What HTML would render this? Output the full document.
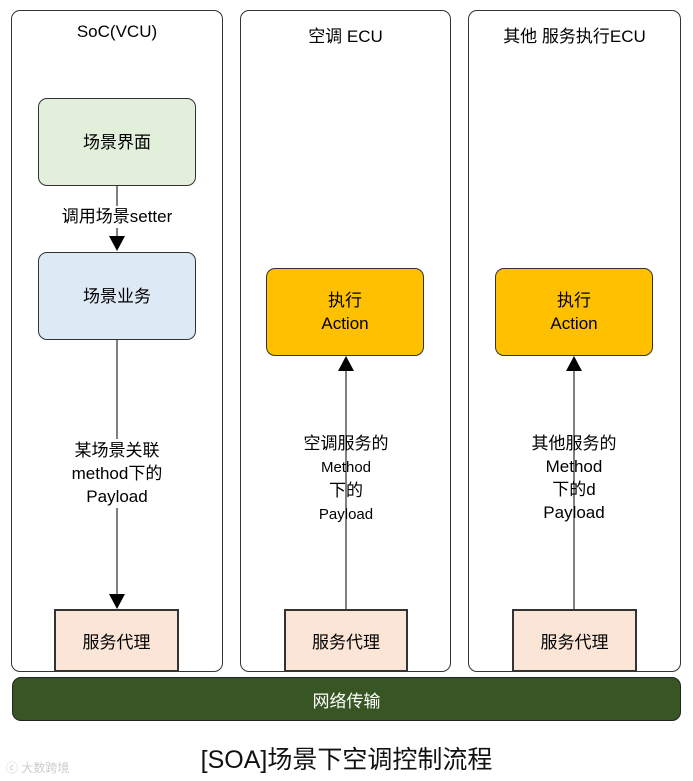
<!DOCTYPE html>
<html><head><meta charset="utf-8"><style>
body{margin:0;width:693px;height:781px;background:#fff;position:relative;overflow:hidden;font-family:"Liberation Sans","Noto Sans CJK SC",sans-serif;color:#000}
.a{position:absolute;box-sizing:border-box}
.panel{border:1px solid #333;border-radius:9px;background:#fff}
.ph{text-align:center;font-size:17px;top:22px}
.box{border:1px solid #333;border-radius:9px;display:flex;align-items:center;justify-content:center;text-align:center;font-size:17px;line-height:23px}
.px{border:2px solid #333;background:#fbe5d6;display:flex;align-items:center;justify-content:center;font-size:17px}
.lbl{text-align:center;font-size:17px;line-height:23px}
</style></head><body>
<div class="a panel" style="left:11px;top:10px;width:212px;height:662px"></div>
<div class="a panel" style="left:240px;top:10px;width:211px;height:662px"></div>
<div class="a panel" style="left:468px;top:10px;width:213px;height:662px"></div>
<div class="a ph" style="left:11px;width:212px">SoC(VCU)</div>
<div class="a ph" style="left:240px;width:211px">空调 ECU</div>
<div class="a ph" style="left:468px;width:213px">其他 服务执行ECU</div>

<svg class="a" style="left:0;top:0" width="693" height="781">
<line x1="117" y1="185" x2="117" y2="240" stroke="#000"/>
<polygon points="109,236 125,236 117,251" fill="#000"/>
<line x1="117" y1="339" x2="117" y2="596" stroke="#000"/>
<polygon points="109,594 125,594 117,609" fill="#000"/>
<line x1="346" y1="609" x2="346" y2="368" stroke="#000"/>
<polygon points="338,371 354,371 346,356" fill="#000"/>
<line x1="574" y1="609" x2="574" y2="368" stroke="#000"/>
<polygon points="566,371 582,371 574,356" fill="#000"/>
</svg>

<div class="a box" style="left:38px;top:98px;width:158px;height:88px;background:#e2efda">场景界面</div>
<div class="a box" style="left:38px;top:252px;width:158px;height:88px;background:#dde9f5">场景业务</div>
<div class="a box" style="left:266px;top:268px;width:158px;height:88px;background:#ffc000">执行<br>Action</div>
<div class="a box" style="left:495px;top:268px;width:158px;height:88px;background:#ffc000">执行<br>Action</div>

<div class="a lbl" style="left:45px;top:206px;width:144px;line-height:22px;background:#fff">调用场景setter</div>
<div class="a lbl" style="left:50px;top:439px;width:134px;line-height:23px;background:#fff">某场景关联<br>method下的<br>Payload</div>
<div class="a lbl" style="left:285px;top:432px;width:122px;line-height:23px"><span style="font-size:17px">空调服务的</span><br><span style="font-size:15px">Method</span><br><span style="font-size:17px">下的</span><br><span style="font-size:15px">Payload</span></div>
<div class="a lbl" style="left:514px;top:432px;width:120px;line-height:23px;font-size:17px">其他服务的<br>Method<br>下的d<br>Payload</div>

<div class="a px" style="left:54px;top:609px;width:125px;height:63px">服务代理</div>
<div class="a px" style="left:284px;top:609px;width:124px;height:63px">服务代理</div>
<div class="a px" style="left:512px;top:609px;width:125px;height:63px">服务代理</div>

<div class="a" style="left:12px;top:677px;width:669px;height:44px;background:#375623;border:1px solid #222;border-radius:9px;color:#fff;font-size:17px;display:flex;align-items:center;justify-content:center">网络传输</div>
<div class="a" style="left:0;top:740px;width:693px;text-align:center;font-size:25px;color:#111">[SOA]场景下空调控制流程</div>
<div class="a" style="left:6px;top:759px;font-size:12px;color:#ccc">ⓒ 大数跨境</div>
</body></html>
